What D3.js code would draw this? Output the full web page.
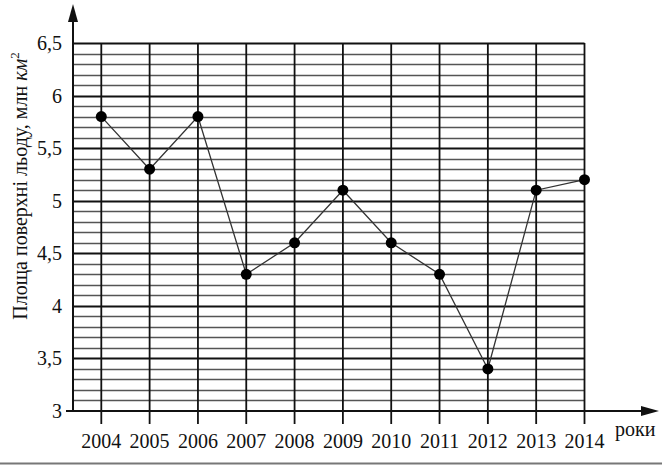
<!DOCTYPE html>
<html>
<head>
<meta charset="utf-8">
<script src="https://cdn.jsdelivr.net/npm/d3@7"></script>
<style>
  body { margin: 0; background: #fff; }
  text { font-family: "Liberation Serif", "Times New Roman", serif; fill: #111; }
</style>
</head>
<body>
<div id="chart"></div>
<script>
// data
var years = [2004, 2005, 2006, 2007, 2008, 2009, 2010, 2011, 2012, 2013, 2014];
var iceArea = [5.8, 5.3, 5.8, 4.3, 4.6, 5.1, 4.6, 4.3, 3.4, 5.1, 5.2];
var yTicks = [3, 3.5, 4, 4.5, 5, 5.5, 6, 6.5];
var yTickLabels = ["3", "3,5", "4", "4,5", "5", "5,5", "6", "6,5"];

var width = 668, height = 474;
var margin = {top: 43, left: 73, bottom: 63};

var svg = d3.select("#chart").append("svg")
  .attr("width", width)
  .attr("height", height);

var x = d3.scalePoint()
  .domain(years)
  .range([101.3, 584.5]);

var y = d3.scaleLinear()
  .domain([3, 6.5])
  .range([height - 63, margin.top]);

var x0 = margin.left, x1 = x(2014);

// horizontal grid every 0.1, heavier every 0.5
var minor = d3.range(31, 66).map(function(d) { return d / 10; });
function isMajor(d) { return Math.abs(d * 2 - Math.round(d * 2)) < 1e-6; }

svg.append("g").selectAll("line")
  .data(minor)
  .enter().append("line")
  .attr("x1", x0).attr("x2", x1)
  .attr("y1", function(d) { return Math.round(y(d)) + 0.5; })
  .attr("y2", function(d) { return Math.round(y(d)) + 0.5; })
  .style("stroke", function(d) { return isMajor(d) ? "#111" : "#555"; })
  .style("stroke-width", function(d) { return isMajor(d) ? 2 : 1.3; });

// vertical lines, with ticks below the axis
svg.append("g").selectAll("line")
  .data(years)
  .enter().append("line")
  .attr("x1", function(d) { return x(d); })
  .attr("x2", function(d) { return x(d); })
  .attr("y1", y(6.5))
  .attr("y2", y(3) + 13)
  .style("stroke", "#111")
  .style("stroke-width", 1.8);

// axes with arrows
svg.append("line")
  .attr("x1", x0).attr("x2", x0)
  .attr("y1", y(3)).attr("y2", 16)
  .style("stroke", "#111").style("stroke-width", 2);
svg.append("path")
  .attr("d", "M" + x0 + ",4 L" + (x0 - 5) + ",22 L" + (x0 + 5) + ",22 Z")
  .style("fill", "#111");

svg.append("line")
  .attr("x1", x0 - 7).attr("x2", 648)
  .attr("y1", y(3)).attr("y2", y(3))
  .style("stroke", "#111").style("stroke-width", 2);
svg.append("path")
  .attr("d", "M659," + y(3) + " L641," + (y(3) - 5) + " L641," + (y(3) + 5) + " Z")
  .style("fill", "#111");

// y tick labels
svg.append("g").selectAll("text")
  .data(yTicks)
  .enter().append("text")
  .attr("x", 62)
  .attr("y", function(d) { return y(d) + 7; })
  .attr("text-anchor", "end")
  .style("font-size", "20px")
  .text(function(d, i) { return yTickLabels[i]; });

// x tick labels
svg.append("g").selectAll("text")
  .data(years)
  .enter().append("text")
  .attr("x", function(d) { return x(d); })
  .attr("y", 448)
  .attr("text-anchor", "middle")
  .style("font-size", "20px")
  .text(function(d) { return d; });

svg.append("text")
  .attr("x", 615).attr("y", 436)
  .style("font-size", "20px")
  .text("роки");

// y axis title
var title = svg.append("text")
  .attr("transform", "translate(27,186) rotate(-90)")
  .attr("text-anchor", "middle")
  .style("font-size", "20px");
title.append("tspan").text("Площа поверхні льоду, млн ");
title.append("tspan").style("font-style", "italic").text("км");
title.append("tspan").attr("dy", -8).style("font-size", "13px").text("2");

// data line and points
var line = d3.line()
  .x(function(d, i) { return x(years[i]); })
  .y(function(d) { return y(d); });

svg.append("path")
  .datum(iceArea)
  .attr("d", line)
  .style("fill", "none")
  .style("stroke", "#333")
  .style("stroke-width", 1.3);

svg.append("g").selectAll("circle")
  .data(iceArea)
  .enter().append("circle")
  .attr("cx", function(d, i) { return x(years[i]); })
  .attr("cy", function(d) { return y(d); })
  .attr("r", 5.5)
  .style("fill", "#000");

// rule at the bottom of the page
svg.append("line")
  .attr("x1", 0).attr("x2", 662)
  .attr("y1", 463.5).attr("y2", 463.5)
  .style("stroke", "#777").style("stroke-width", 2);
</script>
</body>
</html>
